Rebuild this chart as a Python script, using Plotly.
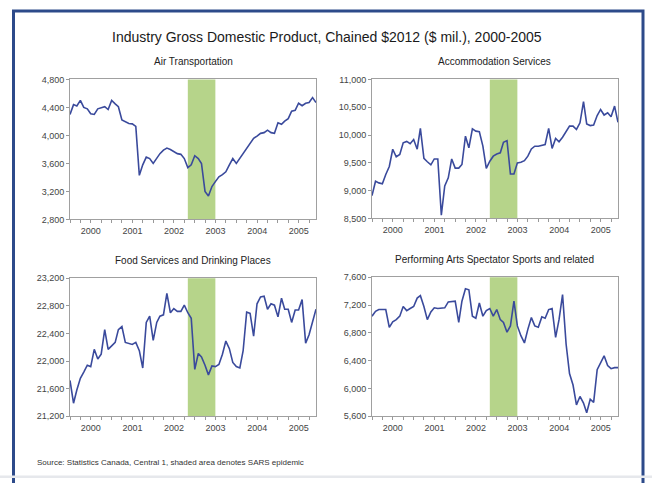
import pandas as pd
import plotly.graph_objects as go

months = pd.date_range("2000-01-01", periods=72, freq="MS")

air_transportation = [
    4300, 4440, 4420, 4500, 4400, 4380, 4310, 4300, 4380, 4400, 4410, 4370,
    4500, 4450, 4410, 4220, 4200, 4170, 4165, 4130, 3430, 3580, 3690, 3670,
    3600, 3670, 3740, 3790, 3820, 3800, 3770, 3740, 3730, 3670, 3540, 3580,
    3710, 3670, 3600, 3200, 3135, 3270, 3340, 3410, 3440, 3480, 3580, 3670,
    3600, 3670, 3740, 3810, 3880, 3960, 3990, 4030, 4040, 4075, 4040, 4030,
    4180, 4160, 4205, 4240, 4345, 4360, 4460, 4425, 4460, 4470, 4540, 4470,
]
accommodation_services = [
    8910, 9170, 9140, 9125, 9290, 9435, 9745, 9610, 9650, 9860, 9885, 9845,
    9920, 9745, 10120, 9580, 9520, 9465, 9570, 9570, 8560, 9085, 9230, 9570,
    9405, 9405, 9470, 9980, 9770, 10110, 10070, 10060, 9800, 9400, 9530, 9620,
    9660, 9680, 9870, 9900, 9300, 9300, 9500, 9510, 9540, 9620, 9750, 9800,
    9800, 9810, 9830, 10120, 9760, 9940, 9880, 9960, 10070, 10160, 10160, 10100,
    10220, 10600, 10200, 10170, 10180, 10350, 10460, 10360, 10400, 10330, 10520, 10230,
]
food_services = [
    21720, 21390, 21580, 21750, 21840, 21940, 21920, 22170, 22030, 22100, 22455, 22170,
    22220, 22270, 22455, 22500, 22270, 22250, 22240, 22270, 22150, 21900, 22560, 22650,
    22300, 22560, 22650, 22670, 22980, 22700, 22760, 22720, 22720, 22810, 22700, 22620,
    21880, 22110, 22060, 21940, 21800, 21930, 21920, 21950, 22100, 22290, 22180, 21980,
    21920, 21900, 22150, 22710, 22690, 22360, 22830, 22930, 22940, 22750, 22830, 22810,
    22640, 22910, 22750, 22750, 22560, 22740, 22740, 22890, 22260, 22380, 22560, 22750,
]
performing_arts = [
    7040, 7110, 7135, 7135, 7135, 6880, 6960, 6990, 7040, 7180, 7120, 7150,
    7180, 7300, 7335, 7180, 6990, 7100, 7160, 7150, 7150, 7160, 7245, 7255,
    7255, 6950, 7255, 7435, 7420, 7040, 7010, 7230, 7040, 7120, 7150, 7040,
    7135, 6990, 6950, 6810, 6900, 7255, 6900, 6760, 6655, 6850, 7020, 6900,
    6880, 7030, 7010, 7135, 7150, 6735, 6990, 7350, 6640, 6215, 6050, 5765,
    5885, 5790, 5650, 5845, 5800, 6270, 6380, 6470, 6330, 6285, 6300, 6300,
]

panel_titles = [
    "Air Transportation",
    "Accommodation Services",
    "Food Services and Drinking Places",
    "Performing Arts Spectator Sports and related",
]
series = [air_transportation, accommodation_services, food_services, performing_arts]
y_ranges = [(2800, 4800, 400), (8500, 11000, 500), (21200, 23200, 400), (5600, 7600, 400)]
sars_start, sars_end = "2002-11-01", "2003-07-01"

title_text = "Industry Gross Domestic Product, Chained $2012 ($ mil.), 2000-2005"
source_text = "Source: Statistics Canada, Central 1, shaded area denotes SARS epidemic"

W, H = 652, 483
FONT = "Liberation Sans, Arial, sans-serif"
LINE = "#3a4a9c"
SHADE = "#b6d48a"

# panel pixel boxes: (left, right, top, bottom)
boxes = [(70, 316, 76, 219), (372, 618, 76, 218), (70, 316, 279, 420), (372, 618, 278, 420)]

fig = go.Figure()
annotations = []
shapes = []
for i, (vals, ttl, (lo, hi, dt), (l, r, t, b)) in enumerate(zip(series, panel_titles, y_ranges, boxes)):
    n = "" if i == 0 else str(i + 1)
    fig.add_trace(go.Scatter(x=months, y=vals, mode="lines",
                             line=dict(color=LINE, width=1.6),
                             xaxis="x" + n, yaxis="y" + n, showlegend=False,
                             hoverinfo="x+y"))
    fig.layout["xaxis" + n] = dict(
        domain=[l / W, r / W], anchor="y" + n, type="date",
        range=["2000-01-01", "2005-12-01"],
        tick0="2000-01-01", dtick="M12", tickformat="%Y", ticklabelmode="period",
        ticks="outside", ticklen=3, tickcolor="#999",
        minor=dict(dtick="M3", tick0="2000-01-01", ticks="outside", ticklen=3, tickcolor="#999"),
        showline=True, linecolor="#a0a0a0", linewidth=1, mirror=True,
        showgrid=False, zeroline=False,
        tickfont=dict(family=FONT, size=9, color="#444"),
    )
    fig.layout["yaxis" + n] = dict(
        domain=[1 - b / H, 1 - t / H], anchor="x" + n,
        range=[lo, hi], dtick=dt, tick0=lo, tickformat=",d",
        ticks="outside", ticklen=3, tickcolor="#999",
        showline=True, linecolor="#a0a0a0", linewidth=1, mirror=True,
        showgrid=False, zeroline=False,
        tickfont=dict(family=FONT, size=9, color="#444"),
    )
    shapes.append(dict(type="rect", xref="x" + n, yref="y" + n + " domain",
                       x0=sars_start, x1=sars_end, y0=0, y1=1,
                       fillcolor=SHADE, line=dict(width=0), layer="below"))
    annotations.append(dict(text=ttl, xref="paper", yref="paper",
                            x=(l + r) / 2 / W, y=1 - (t - 18) / H,
                            xanchor="center", yanchor="middle", showarrow=False,
                            font=dict(family=FONT, size=10, color="#222")))

annotations.append(dict(text=title_text, xref="paper", yref="paper",
                        x=327 / W, y=1 - 33 / H, xanchor="center", yanchor="middle",
                        showarrow=False, font=dict(family=FONT, size=14, color="#1a1a1a")))
annotations.append(dict(text=source_text, xref="paper", yref="paper",
                        x=35 / W, y=1 - 467 / H, xanchor="left", yanchor="middle",
                        showarrow=False, font=dict(family=FONT, size=8, color="#333")))

# outer blue frame
shapes.append(dict(type="rect", xref="paper", yref="paper",
                   x0=13.5 / W, x1=643 / W, y0=1 - 6 / H, y1=1 - 492 / H,
                   line=dict(color="#2d4a8a", width=3), fillcolor="rgba(0,0,0,0)", layer="above"))
shapes.append(dict(type="rect", xref="paper", yref="paper",
                   x0=0, x1=1, y0=0, y1=2.5 / H,
                   line=dict(width=0), fillcolor="#e6e8ec", layer="above"))

fig.update_layout(width=W, height=H, margin=dict(l=0, r=0, t=0, b=0),
                  paper_bgcolor="white", plot_bgcolor="white",
                  shapes=shapes, annotations=annotations,
                  font=dict(family=FONT))

fig.write_html("out.html", config={"displayModeBar": False},
               post_script="document.body.style.margin='0';document.body.style.overflow='hidden';")
